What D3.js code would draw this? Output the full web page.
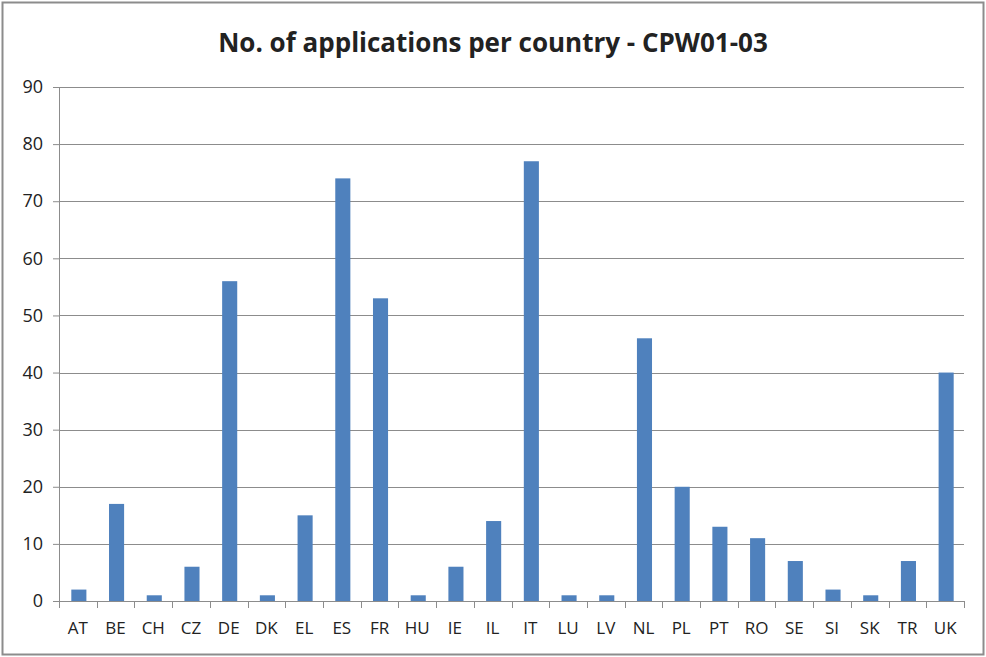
<!DOCTYPE html>
<html>
<head>
<meta charset="utf-8">
<script src="https://cdn.jsdelivr.net/npm/d3@7"></script>
<style>
  body { margin: 0; background: #fff; }
  svg text { font-family: "Open Sans", "Noto Sans", sans-serif; fill: #222; }
</style>
</head>
<body>
<svg id="chart" width="986" height="657"></svg>
<script>
// Data
const countries = ["AT","BE","CH","CZ","DE","DK","EL","ES","FR","HU","IE","IL","IT","LU","LV","NL","PL","PT","RO","SE","SI","SK","TR","UK"];
const applications = [2,17,1,6,56,1,15,74,53,1,6,14,77,1,1,46,20,13,11,7,2,1,7,40];
const yTicks = [0,10,20,30,40,50,60,70,80,90];

const data = countries.map((c, i) => ({ country: c, value: applications[i] }));

const svg = d3.select("#chart"),
      width = +svg.attr("width"),
      height = +svg.attr("height"),
      margin = { top: 87, right: 22, bottom: 56, left: 59 },
      innerWidth = width - margin.left - margin.right,
      innerHeight = height - margin.top - margin.bottom;

// Outer frame
svg.append("rect")
  .attr("x", 2.5).attr("y", 2.5)
  .attr("width", width - 5).attr("height", height - 5)
  .attr("fill", "none")
  .attr("stroke", "#8c8c8c")
  .attr("stroke-width", 2);

// Scales
const xScale = d3.scaleBand().domain(countries).range([0, innerWidth]).paddingInner(0.6).paddingOuter(0.3);
const xBand = d3.scaleBand().domain(countries).range([0, innerWidth]);
const yScale = d3.scaleLinear().domain([0, 90]).range([innerHeight, 0]);

const g = svg.append("g").attr("transform", `translate(${margin.left},${margin.top})`);

// Y axis
const yAxis = g.append("g")
  .call(d3.axisLeft(yScale).tickValues(yTicks).tickSize(6).tickPadding(10));
yAxis.select(".domain").attr("stroke", "#8c8c8c");
yAxis.selectAll(".tick line").attr("stroke", "#8c8c8c");
yAxis.selectAll(".tick text").attr("font-size", 18).attr("fill", "#222");

// Gridlines
g.append("g").selectAll("line")
  .data(yTicks.filter(d => d > 0))
  .join("line")
  .attr("x1", 0).attr("x2", innerWidth)
  .attr("y1", d => Math.round(yScale(d)) + 0.5)
  .attr("y2", d => Math.round(yScale(d)) + 0.5)
  .attr("stroke", "#8c8c8c");

// Bars
g.selectAll(".bar")
  .data(data)
  .join("rect")
  .attr("class", "bar")
  .attr("x", d => xScale(d.country) + 1)
  .attr("y", d => yScale(d.value))
  .attr("width", xScale.bandwidth())
  .attr("height", d => innerHeight - yScale(d.value))
  .attr("fill", "#4f81bd");

// X axis
const xAxis = g.append("g")
  .attr("transform", `translate(0,${innerHeight})`)
  .call(d3.axisBottom(xBand).tickSize(0).tickPadding(21));
xAxis.select(".domain").attr("stroke", "#8c8c8c");
xAxis.selectAll(".tick text").attr("font-size", 17).attr("fill", "#222");

// Category separator ticks
g.append("g").selectAll("line")
  .data(d3.range(countries.length + 1))
  .join("line")
  .attr("x1", i => Math.round(i * xBand.step()) + 0.5)
  .attr("x2", i => Math.round(i * xBand.step()) + 0.5)
  .attr("y1", innerHeight)
  .attr("y2", innerHeight + 7)
  .attr("stroke", "#8c8c8c");

// Title
svg.append("text")
  .attr("x", width / 2)
  .attr("y", 52)
  .attr("text-anchor", "middle")
  .attr("font-size", 26)
  .attr("font-weight", "bold")
  .text("No. of applications per country - CPW01-03");
</script>
</body>
</html>
